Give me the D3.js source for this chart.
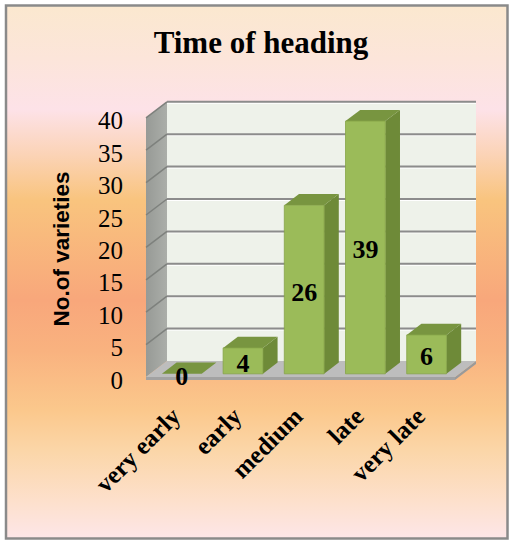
<!DOCTYPE html>
<html><head><meta charset="utf-8">
<script src="https://cdn.jsdelivr.net/npm/d3@7"></script>
<style>html,body{margin:0;padding:0;background:#fff}</style>
</head><body><svg id="chart" width="510" height="540"></svg>
<script>
// Number of varieties per heading class
const categories = ["very early", "early", "medium", "late", "very late"];
const varieties = [0, 4, 26, 39, 6];
const yTicks = [0, 5, 10, 15, 20, 25, 30, 35, 40];
const chartTitle = "Time of heading";
const yTitle = "No.of varieties";

const svg = d3.select("#chart");
const serif = "'Liberation Serif','Times New Roman',serif";
const sans = "'Liberation Sans',Arial,sans-serif";

// background gradient
const defs = svg.append("defs");
const bg = defs.append("linearGradient").attr("id", "bg").attr("x1", 0).attr("y1", 0).attr("x2", 0).attr("y2", 1);
[[0, "#fbe8cf"], [0.1, "#fce5da"], [0.195, "#fde2e8"], [0.28, "#fbd3b6"], [0.365, "#f9c47e"],
 [0.553, "#f8a77b"], [0.647, "#f9b27f"], [0.76, "#fbc88c"], [0.835, "#fbd6a8"], [0.93, "#fde0cc"], [1, "#fde6e8"]]
  .forEach(([o, c]) => bg.append("stop").attr("offset", o).attr("stop-color", c));
const sideG = defs.append("linearGradient").attr("id", "side").attr("x1", 0).attr("y1", 0).attr("x2", 1).attr("y2", 0);
sideG.append("stop").attr("offset", 0).attr("stop-color", "#979a96");
sideG.append("stop").attr("offset", 1).attr("stop-color", "#abaea9");

svg.append("rect").attr("x", 6).attr("y", 5.5).attr("width", 501.5).attr("height", 533)
  .attr("fill", "url(#bg)").attr("stroke", "#8a8a8a").attr("stroke-width", 2.5);

// oblique 3-D projection: front plane scales plus a depth offset
const depth = { dx: 21, dy: -16 };
const y = d3.scaleLinear().domain([0, 40]).range([377, 117.8]);
const wall = [146, 455];
const x = d3.scaleBand().domain(categories).range([147, 453]).paddingInner(0.35).paddingOuter(0.175);
const z0 = 0.2, z1 = 0.9;
const P = (px, v, z) => [px + z * depth.dx, y(v) + z * depth.dy];
const poly = pts => "M" + pts.map(p => p.join(",")).join("L") + "Z";

const walls = svg.append("g");
// left side wall
walls.append("path").attr("d", poly([P(wall[0], 0, 0), P(wall[0], 40, 0), P(wall[0], 40, 1), P(wall[0], 0, 1)]))
  .attr("fill", "url(#side)");
// back wall
walls.append("path").attr("d", poly([P(wall[0], 0, 1), P(wall[0], 40, 1), P(wall[1], 40, 1), P(wall[1], 0, 1)]))
  .attr("fill", "#eef2ea");
// floor slab
const slab = 3;
const down = p => [p[0], p[1] + slab];
walls.append("path").attr("d", poly([P(wall[0], 0, 0), P(wall[1], 0, 0), down(P(wall[1], 0, 0)), down(P(wall[0], 0, 0))]))
  .attr("fill", "#a2a2a2");
walls.append("path").attr("d", poly([P(wall[1], 0, 0), P(wall[1], 0, 1), down(P(wall[1], 0, 1)), down(P(wall[1], 0, 0))]))
  .attr("fill", "#9a9a9a");
walls.append("path").attr("d", poly([P(wall[0], 0, 0), P(wall[0], 0, 1), P(wall[1], 0, 1), P(wall[1], 0, 0)]))
  .attr("fill", "#bdbdbd");

// gridlines on back and side walls
const grid = svg.append("g");
yTicks.filter(v => v > 0).forEach(v => {
  const a = P(wall[0], v, 1), b = P(wall[1], v, 1), c = P(wall[0], v, 0);
  grid.append("line").attr("x1", a[0]).attr("y1", a[1] + 1.5).attr("x2", b[0]).attr("y2", b[1] + 1.5)
    .attr("stroke", "#ffffff").attr("stroke-width", 1);
  grid.append("line").attr("x1", a[0]).attr("y1", a[1]).attr("x2", b[0]).attr("y2", b[1])
    .attr("stroke", "#8c8c8c").attr("stroke-width", 2);
  grid.append("line").attr("x1", c[0]).attr("y1", c[1]).attr("x2", a[0]).attr("y2", a[1])
    .attr("stroke", "#7e817d").attr("stroke-width", 1.5);
});

// bars
const bars = svg.append("g");
const bw = x.bandwidth();
categories.forEach((cat, i) => {
  const v = varieties[i];
  const xl = x(cat), xr = xl + bw;
  const g = bars.append("g");
  g.append("path").attr("d", poly([P(xr, 0, z0), P(xr, v, z0), P(xr, v, z1), P(xr, 0, z1)])).attr("fill", "#6e8a38");
  g.append("path").attr("d", poly([P(xl, v, z0), P(xl, v, z1), P(xr, v, z1), P(xr, v, z0)])).attr("fill", "#789540");
  if (v > 0) {
    g.append("path").attr("d", poly([P(xl, 0, z0), P(xl, v, z0), P(xr, v, z0), P(xr, 0, z0)]))
      .attr("fill", "#9bbb59").attr("stroke", "#86a548").attr("stroke-width", 0.8);
  }
  const c = P(xl + bw / 2, v / 2, z0);
  g.append("text").attr("x", c[0]).attr("y", c[1] + 11)
    .attr("text-anchor", "middle").attr("font-family", serif).attr("font-weight", "bold")
    .attr("font-size", 26).attr("fill", "#000").text(v);
});

// value axis labels
const yAxis = svg.append("g").attr("transform", "translate(123,0)")
  .call(d3.axisLeft(y).tickValues(yTicks).tickSize(0).tickPadding(0));
yAxis.select(".domain").remove();
yAxis.selectAll("text").attr("dy", "0.44em").attr("font-family", serif).attr("font-size", 25).attr("fill", "#000");

// category labels
const xAxis = svg.append("g").attr("transform", `translate(${z0 * depth.dx},418)`)
  .call(d3.axisBottom(x).tickSize(0).tickPadding(0));
xAxis.select(".domain").remove();
xAxis.selectAll("text").attr("y", 0).attr("dy", 0).attr("transform", "rotate(-45)")
  .attr("text-anchor", "end").attr("font-family", serif).attr("font-weight", "bold")
  .attr("font-size", 25).attr("fill", "#000");

// titles
svg.append("text").attr("x", 261).attr("y", 53).attr("text-anchor", "middle")
  .attr("font-family", serif).attr("font-weight", "bold").attr("font-size", 31).text(chartTitle);
svg.append("text").attr("transform", "translate(69,249) rotate(-90)").attr("text-anchor", "middle")
  .attr("font-family", sans).attr("font-weight", "bold").attr("font-size", 22.5).text(yTitle);
</script></body></html>
